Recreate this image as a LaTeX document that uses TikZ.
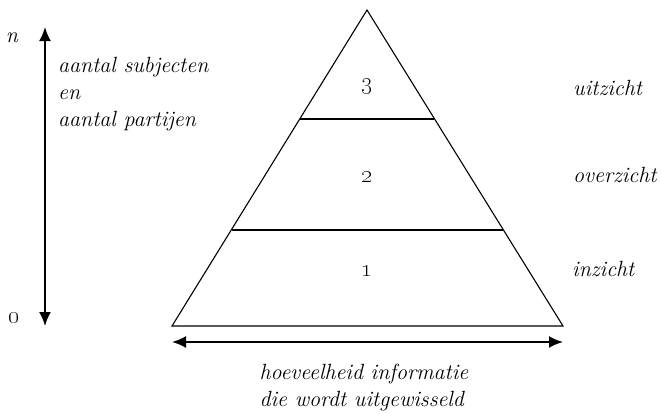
\documentclass[tikz,border=0pt]{standalone}
\usetikzlibrary{arrows.meta}
\begin{document}
\begin{tikzpicture}[x=1pt,y=-1pt,
  lbl/.style={font=\fontsize{22}{27}\selectfont\itshape, inner sep=0pt},
  num/.style={font=\fontsize{27}{27}\selectfont, inner sep=0pt},
  thin/.style={line width=1.1pt},
  divider/.style={line width=2.2pt},
  axis/.style={line width=2pt, -{Latex[length=14pt,width=12pt]}},
  daxis/.style={line width=2pt, {Latex[length=14pt,width=12pt]}-{Latex[length=14pt,width=12pt]}}]
\useasboundingbox (0,0) rectangle (662,413);
% pyramid
\coordinate (apex) at (367,10);
\coordinate (bl) at (172,326);
\coordinate (br) at (563,326);
\coordinate (l1) at (299.7,119);
\coordinate (r1) at (434.3,119);
\coordinate (l2) at (231.5,230);
\coordinate (r2) at (502.5,230);
\draw[thin, line join=miter] (apex) -- (bl) -- (br) -- cycle;
\draw[divider] (l1) -- (r1);
\draw[divider] (l2) -- (r2);
\node[num] (n3) at (367,87) {\oldstylenums{3}};
\node[num] (n2) at (367,177) {\oldstylenums{2}};
\node[num] (n1) at (367,271) {\oldstylenums{1}};
% right labels
\node[lbl, anchor=west] (uit) at (573,88) {uitzicht};
\node[lbl, anchor=west] (over) at (573,175) {overzicht};
\node[lbl, anchor=west] (in) at (572,269) {inzicht};
% vertical axis
\coordinate (vmid) at (45,176);
\coordinate (vtop) at (45,27);
\coordinate (vbot) at (45,326);
\draw[axis] (vmid) -- (vtop);
\draw[axis] (vmid) -- (vbot);
\node[lbl] (nn) at (12,38) {n};
\node[num] (zero) at (14,318) {\oldstylenums{0}};
\node[lbl, anchor=west, align=left] (ax) at (58,94) {aantal subjecten\\en\\aantal partijen};
% horizontal axis
\coordinate (hl) at (172,342);
\coordinate (hr) at (563,342);
\draw[daxis] (hl) -- (hr);
\node[lbl, align=left] (hx) at (364,387) {hoeveelheid informatie\\die wordt uitgewisseld};
\end{tikzpicture}
\end{document}
